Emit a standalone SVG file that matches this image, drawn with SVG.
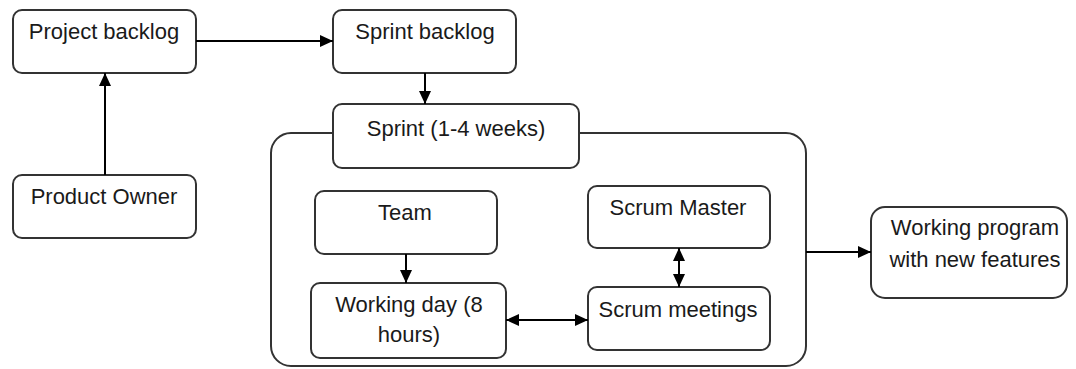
<svg xmlns="http://www.w3.org/2000/svg" width="1076" height="369" viewBox="0 0 1076 369">
<defs>
<style>
.box{fill:#fff;stroke:#333;stroke-width:2}
.t{font-family:"Liberation Sans",Arial,sans-serif;font-size:22px;fill:#1a1a1a;text-anchor:middle}
.c{stroke:#000;stroke-width:2;fill:none}
</style>
<marker id="ah" markerUnits="userSpaceOnUse" markerWidth="14" markerHeight="12" refX="13" refY="6" orient="auto-start-reverse">
<path d="M0,0 L13,6 L0,12 z" fill="#000"/>
</marker>
</defs>
<rect width="1076" height="369" fill="#fff"/>
<g id="sprint-container">
<rect class="box" x="271" y="133" width="535" height="233" rx="20"/>
</g>
<g id="project-backlog">
<rect class="box" x="13" y="10" width="183" height="63" rx="9"/>
<text class="t" x="104" y="39">Project backlog</text>
</g>
<g id="sprint-backlog">
<rect class="box" x="333" y="10" width="183" height="63" rx="9"/>
<text class="t" x="425" y="39">Sprint backlog</text>
</g>
<g id="sprint">
<rect class="box" x="333" y="104" width="246" height="64" rx="9"/>
<text class="t" x="456" y="136">Sprint (1-4 weeks)</text>
</g>
<g id="product-owner">
<rect class="box" x="13" y="175" width="183" height="63" rx="9"/>
<text class="t" x="104" y="204">Product Owner</text>
</g>
<g id="team">
<rect class="box" x="315" y="191" width="182" height="63" rx="9"/>
<text class="t" x="405" y="220">Team</text>
</g>
<g id="working-day">
<rect class="box" x="311" y="283" width="195" height="75" rx="9"/>
<text class="t" x="409" y="312">Working day (8</text>
<text class="t" x="409" y="342">hours)</text>
</g>
<g id="scrum-master">
<rect class="box" x="588" y="186" width="182" height="62" rx="9"/>
<text class="t" x="678" y="215">Scrum Master</text>
</g>
<g id="scrum-meetings">
<rect class="box" x="588" y="287" width="182" height="63" rx="9"/>
<text class="t" x="678" y="317">Scrum meetings</text>
</g>
<g id="working-program">
<rect class="box" x="871" y="207" width="196" height="91" rx="14"/>
<text class="t" x="975" y="235">Working program</text>
<text class="t" x="975" y="267">with new features</text>
</g>
<g id="connectors">
<line class="c" x1="196" y1="41" x2="333" y2="41" marker-end="url(#ah)"/>
<line class="c" x1="105" y1="175" x2="105" y2="73" marker-end="url(#ah)"/>
<line class="c" x1="425" y1="73" x2="425" y2="104" marker-end="url(#ah)"/>
<line class="c" x1="406" y1="254" x2="406" y2="283" marker-end="url(#ah)"/>
<line class="c" x1="679" y1="248" x2="679" y2="287" marker-start="url(#ah)" marker-end="url(#ah)"/>
<line class="c" x1="506" y1="320" x2="588" y2="320" marker-start="url(#ah)" marker-end="url(#ah)"/>
<line class="c" x1="806" y1="252" x2="871" y2="252" marker-end="url(#ah)"/>
</g>
</svg>
